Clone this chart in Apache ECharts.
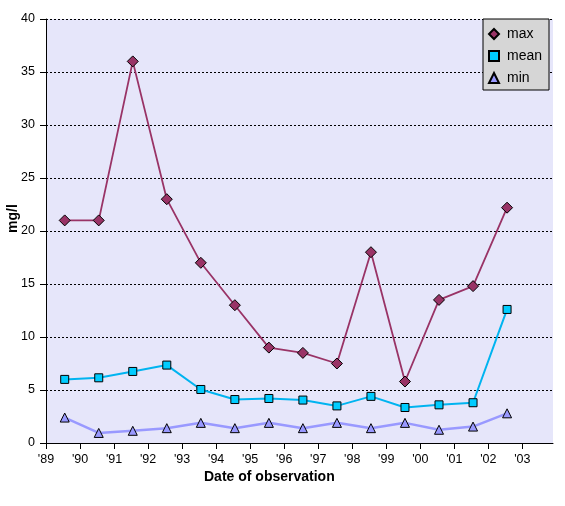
<!DOCTYPE html>
<html>
<head>
<meta charset="utf-8">
<script src="https://cdn.jsdelivr.net/npm/echarts@6/dist/echarts.min.js"></script>
<style>
html,body{margin:0;padding:0;background:#fff;}
#chart{width:565px;height:506px;}
</style>
</head>
<body>
<div id="chart"></div>
<script>
var years = [1989.55,1990.55,1991.55,1992.55,1993.55,1994.55,1995.55,1996.55,1997.55,1998.55,1999.55,2000.55,2001.55,2002.55];
var maxValues  = [21, 21, 36, 23, 17, 13, 9, 8.5, 7.5, 18, 5.8, 13.5, 14.8, 22.2];
var meanValues = [6.0, 6.15, 6.75, 7.35, 5.05, 4.1, 4.2, 4.05, 3.5, 4.4, 3.35, 3.6, 3.8, 12.6];
var minValues  = [2.4, 0.95, 1.15, 1.4, 1.9, 1.4, 1.9, 1.4, 1.9, 1.4, 1.9, 1.25, 1.55, 2.8];
var seriesNames = ['max', 'mean', 'min'];
var xAxisTitle = 'Date of observation';
var yAxisTitle = 'mg/l';

function pairs(vals){ return vals.map(function(v,i){ return [years[i], v]; }); }

var chart = echarts.init(document.getElementById('chart'));
var font = 'Liberation Sans, Arial, sans-serif';
chart.setOption({
  animation: false,
  textStyle: {fontFamily: font},
  grid: {left: 46, right: 12, top: 19, bottom: 63, show: true, backgroundColor: '#E6E6FA', borderWidth: 0},
  legend: {
    orient: 'vertical', left: 483, top: 19,
    backgroundColor: '#D6D6D6', borderColor: '#000', borderWidth: 1,
    padding: [8, 7, 5, 5], itemGap: 8, itemWidth: 10, itemHeight: 10,
    textStyle: {fontSize: 14, color: '#000', fontFamily: font, padding: [0,0,0,3]},
    data: [
      {name: seriesNames[0], icon: 'diamond'},
      {name: seriesNames[1], icon: 'rect'},
      {name: seriesNames[2], icon: 'triangle'}
    ]
  },
  xAxis: {
    type: 'value', min: 1989, max: 2003.9, interval: 1,
    axisLine: {lineStyle: {color: '#000', width: 1}},
    axisTick: {show: true, length: 6, lineStyle: {color: '#000'}},
    axisLabel: {color: '#000', fontSize: 12.5, margin: 10, showMaxLabel: false,
      formatter: function(v){ var s = String(Math.round(v)); return "'" + s.slice(2); }},
    splitLine: {show: false}
  },
  yAxis: {
    type: 'value', min: 0, max: 40, interval: 5,
    axisLine: {show: true, lineStyle: {color: '#000', width: 1}},
    axisTick: {show: true, length: 6, lineStyle: {color: '#000'}},
    axisLabel: {color: '#000', fontSize: 12.5, margin: 11},
    splitLine: {show: true, lineStyle: {color: '#000', type: [2, 2], width: 1}}
  },
  graphic: [
    {type: 'text', style: {text: xAxisTitle, x: 0, y: 0, font: 'bold 14px ' + font, fill: '#000'}, position: [204, 470]},
    {type: 'text', rotation: Math.PI/2, position: [6, 233], style: {text: yAxisTitle, font: 'bold 14px ' + font, fill: '#000'}}
  ],
  series: [
    {name: seriesNames[0], type: 'line', data: pairs(maxValues), symbol: 'diamond', symbolSize: 11,
      lineStyle: {color: '#993366', width: 1.8}, itemStyle: {color: '#993366', borderColor: '#000', borderWidth: 1}, z: 4},
    {name: seriesNames[1], type: 'line', data: pairs(meanValues), symbol: 'rect', symbolSize: 8,
      lineStyle: {color: '#00B4F0', width: 2}, itemStyle: {color: '#00CCFF', borderColor: '#000', borderWidth: 1}, z: 3},
    {name: seriesNames[2], type: 'line', data: pairs(minValues), symbol: 'triangle', symbolSize: 9,
      lineStyle: {color: '#9999FF', width: 2.5}, itemStyle: {color: '#9999FF', borderColor: '#000', borderWidth: 1}, z: 2}
  ]
});
</script>
</body>
</html>
